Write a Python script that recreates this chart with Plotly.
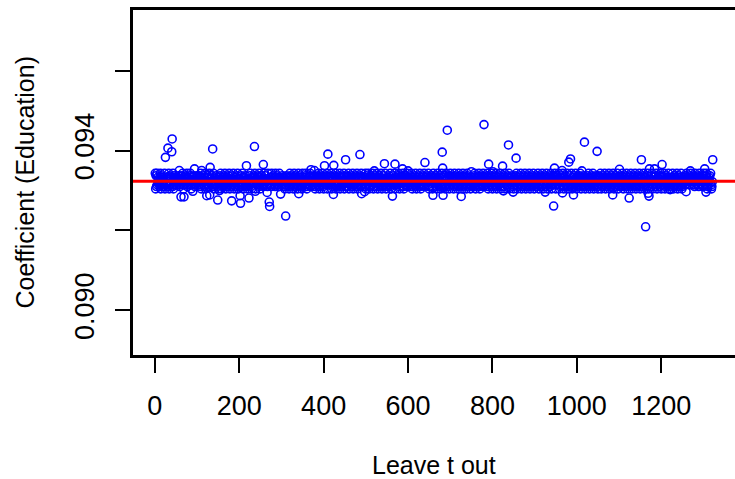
import plotly.graph_objects as go

# ---- data ----
# Band of leave-one-out coefficients: one digit per observation, each digit is a level index
band_code_lines = [
    "90819273645190827364519082736451908273645190827364",
    "46573829165748392057463829174658392047563829164758",
    "53648271905364827190536482719053648271905364827190",
    "47586930214758693021475869302147586930214758693021",
    "64738291056473829105647382910564738291056473829105",
    "35846271935846271935846271935846271935846271935846",
    "58473620195847362019584736201958473620195847362019",
    "43657289104365728910436572891043657289104365728910",
    "76543289017654328901765432890176543289017654328901",
    "52637481905263748190526374819052637481905263748190",
    "48576930124857693012485769301248576930124857693012",
    "65748329106574832910657483291065748329106574832910",
    "37465829103746582910374658291037465829103746582910",
    "56473810295647381029564738102956473810295647381029",
    "84736520198473652019847365201984736520198473652019",
    "45362789104536278910453627891045362789104536278910",
    "63547281906354728190635472819063547281906354728190",
    "57468392015746839201574683920157468392015746839201",
    "46375819204637581920463758192046375819204637581920",
    "75846392017584639201758463920175846392017584639201",
    "34657829103465782910346578291034657829103465782910",
    "68574930216857493021685749302168574930216857493021",
    "53746829105374682910537468291053746829105374682910",
    "47563819204756381920475638192047563819204756381920",
    "86754392018675439201867543920186754392018675439201",
    "55364728195536472819553647281955364728195536472819",
    "6475839201647583920146",
]
band_levels = [0.09304, 0.09310, 0.09314, 0.09318, 0.09322,
               0.09325, 0.09329, 0.09333, 0.09337, 0.09343]

# Observations that stand out from the band (index, coefficient)
outlier_index = [41, 31, 40, 25, 137, 236, 257, 217, 131, 410, 402, 424, 452, 486,
                 544, 569, 640, 693, 780, 681, 838, 856, 791, 682, 824, 801, 750,
                 1018, 1048, 985, 981, 947, 965, 1012, 1101, 1153, 1202, 1172, 1184,
                 1322, 1303, 1269, 58, 94, 111, 370, 378, 587, 600, 520,
                 310, 272, 271, 203, 182, 149, 223, 202, 62, 69, 123, 130, 266, 298,
                 341, 423, 490, 563, 497, 153, 90, 238, 1163, 945, 726, 659, 683,
                 849, 925, 966, 992, 1085, 1124, 1171, 1169, 1306, 826, 1221, 1259]
outlier_value = [0.09429, 0.09406, 0.09397, 0.09383, 0.09404, 0.09410, 0.09365, 0.09362,
                 0.09358, 0.09391, 0.09362, 0.09363, 0.09377, 0.09390, 0.09367, 0.09366,
                 0.09370, 0.09451, 0.09465, 0.09396, 0.09414, 0.09381, 0.09366, 0.09356,
                 0.09361, 0.09347, 0.09347, 0.09421, 0.09398, 0.09379, 0.09371, 0.09356,
                 0.09350, 0.09349, 0.09353, 0.09377, 0.09365, 0.09354, 0.09354, 0.09377,
                 0.09354, 0.09349, 0.09350, 0.09354, 0.09350, 0.09352, 0.09350, 0.09354,
                 0.09349, 0.09349,
                 0.09236, 0.09260, 0.09271, 0.09268, 0.09274, 0.09276, 0.09281, 0.09287,
                 0.09284, 0.09284, 0.09287, 0.09289, 0.09295, 0.09291, 0.09292, 0.09290,
                 0.09292, 0.09286, 0.09297, 0.09300, 0.09298, 0.09298, 0.09209, 0.09261,
                 0.09285, 0.09288, 0.09288, 0.09296, 0.09296, 0.09294, 0.09289, 0.09289,
                 0.09281, 0.09286, 0.09293, 0.09296, 0.09299, 0.09302, 0.09297]

full_sample_coef = 0.09323

x_tick_vals = [0, 200, 400, 600, 800, 1000, 1200]
y_tick_vals = [0.090, 0.092, 0.094, 0.096]
y_tick_text = ["0.090", "", "0.094", ""]

# ---- assemble series ----
band_code = "".join(band_code_lines)
coef = [band_levels[int(c)] for c in band_code]
n_obs = len(coef)
for i, v in zip(outlier_index, outlier_value):
    if 1 <= i <= n_obs:
        coef[i - 1] = v
obs = list(range(1, n_obs + 1))

FONT = "Liberation Sans, Arial, Helvetica, sans-serif"

fig = go.Figure()
fig.add_trace(go.Scatter(
    x=obs, y=coef, mode="markers",
    marker=dict(symbol="circle-open", size=8, color="#0000FF",
                line=dict(width=1.6, color="#0000FF")),
    showlegend=False, hoverinfo="skip",
))

fig.add_shape(type="line", xref="paper", yref="y", x0=0, x1=1,
              y0=full_sample_coef, y1=full_sample_coef,
              line=dict(color="#FF0000", width=3), layer="above")

fig.update_layout(
    width=735, height=479,
    margin=dict(l=133, r=0, t=10, b=124),
    paper_bgcolor="white", plot_bgcolor="white",
    font=dict(family=FONT, size=26, color="black"),
    xaxis=dict(
        range=[-51.8, 1374.8], tickvals=x_tick_vals,
        ticks="outside", ticklen=15, tickwidth=2, tickcolor="black",
        showline=True, linewidth=3, linecolor="black", mirror=True,
        showgrid=False, zeroline=False,
        tickfont=dict(family=FONT, size=27, color="black"),
        ticklabelstandoff=10,
    ),
    yaxis=dict(
        range=[0.08888, 0.09752], tickvals=y_tick_vals, ticktext=y_tick_text,
        tickangle=-90,
        ticks="outside", ticklen=15, tickwidth=2, tickcolor="black",
        showline=True, linewidth=3, linecolor="black",
        showgrid=False, zeroline=False,
        tickfont=dict(family=FONT, size=27, color="black"),
        ticklabelstandoff=10,
    ),
    annotations=[
        dict(text="Leave t out", xref="paper", yref="paper", x=0.5, y=0,
             xanchor="center", yanchor="middle", yshift=-110, showarrow=False,
             font=dict(family=FONT, size=25, color="black")),
        dict(text="Coefficient (Education)", xref="paper", yref="paper", x=0, y=0.5,
             xanchor="center", yanchor="middle", xshift=-109, textangle=-90,
             showarrow=False, font=dict(family=FONT, size=25, color="black")),
    ],
)

fig.write_html("out.html", config={"displayModeBar": False},
               post_script="document.body.style.margin='0';document.body.style.overflow='hidden';")
